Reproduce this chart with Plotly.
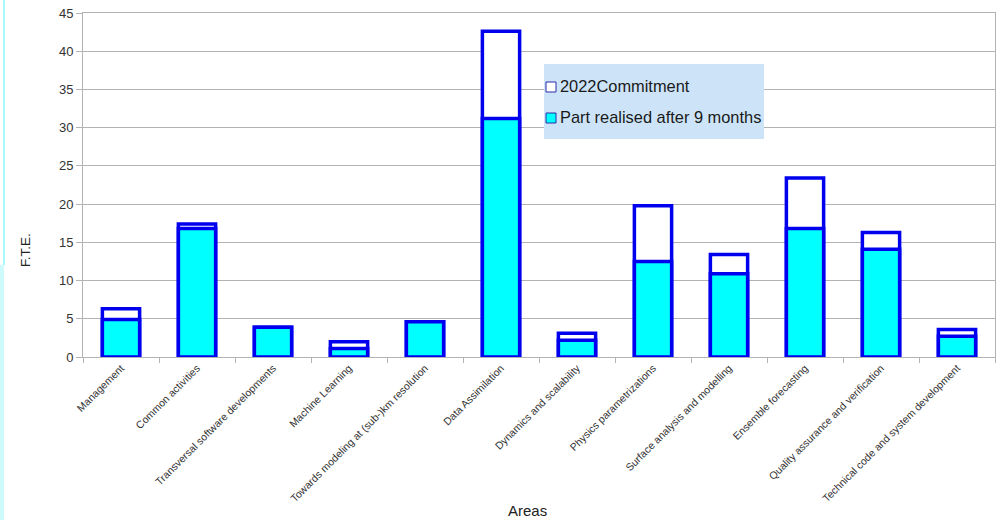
import plotly.graph_objects as go

# Work areas and staffing (full-time equivalents)
areas = [
    "Management",
    "Common activities",
    "Transversal software developments",
    "Machine Learning",
    "Towards modeling at (sub-)km resolution",
    "Data Assimilation",
    "Dynamics and scalability",
    "Physics parametrizations",
    "Surface analysis and modelling",
    "Ensemble forecasting",
    "Quality assurance and verification",
    "Technical code and system development",
]
commitment_2022 = [6.3, 17.4, 3.9, 2.0, 4.6, 42.6, 3.1, 19.8, 13.4, 23.4, 16.3, 3.6]
realised_9_months = [4.9, 16.8, 3.9, 1.1, 4.6, 31.2, 2.2, 12.5, 10.9, 16.8, 14.1, 2.7]

series_names = ["2022Commitment", "Part realised after 9 months"]
y_ticks = [0, 5, 10, 15, 20, 25, 30, 35, 40, 45]

OUTLINE = "#0000ee"
FILLS = ["white", "#00ffff"]
FONT = "Liberation Sans, Arial, sans-serif"

# pixel geometry of the plot area
W, H = 1001, 520
L, R, T, B = 83, 6, 13, 163
PW, PH = W - L - R, H - T - B


def px(x):
    return (x - L) / PW


def py(y):
    return (H - B - y) / PH


fig = go.Figure()
for name, vals, fill in zip(series_names, [commitment_2022, realised_9_months], FILLS):
    fig.add_trace(go.Bar(
        x=areas, y=vals, name=name,
        marker=dict(color=fill, line=dict(color=OUTLINE, width=3.5)),
        width=0.49,
    ))

# legend panel drawn by hand: background, swatches and labels
shapes = [
    dict(type="rect", xref="paper", yref="paper",
         x0=px(544), x1=px(764), y0=py(139), y1=py(64),
         line=dict(width=0), fillcolor="#cde4f8", layer="above"),
]
annotations = []
for i, (name, fill) in enumerate(zip(series_names, FILLS)):
    cy = 87 + 31 * i
    shapes.append(dict(type="rect", xref="paper", yref="paper",
                       x0=px(546), x1=px(556), y0=py(cy + 5), y1=py(cy - 5),
                       line=dict(width=1, color="#2a2aa8"), fillcolor=fill,
                       layer="above"))
    annotations.append(dict(text=name, xref="paper", yref="paper",
                            x=px(558), y=py(cy - 1), xanchor="left", yanchor="middle",
                            showarrow=False,
                            font=dict(size=16.4, color="#1a1a1a", family=FONT)))

# slim cyan edge strip along the left of the page
shapes += [
    dict(type="rect", xref="paper", yref="paper",
         x0=px(3), x1=px(5), y0=py(265), y1=py(0),
         line=dict(width=0), fillcolor="#a8fbfb", layer="below"),
    dict(type="rect", xref="paper", yref="paper",
         x0=px(0), x1=px(4), y0=py(520), y1=py(265),
         line=dict(width=0), fillcolor="#cdfbfb", layer="below"),
]

annotations += [
    dict(text="F.T.E.", xref="paper", yref="paper", x=px(25), y=py(250),
         xanchor="center", yanchor="middle",
         textangle=-90, showarrow=False, font=dict(size=13.5, color="#222222")),
    dict(text="Areas", xref="paper", yref="paper", x=px(527), y=py(511),
         xanchor="center", yanchor="middle",
         showarrow=False, font=dict(size=15, color="#222222")),
]

fig.update_layout(
    width=W, height=H,
    margin=dict(l=L, r=R, t=T, b=B),
    paper_bgcolor="white", plot_bgcolor="white",
    barmode="overlay",
    font=dict(family=FONT, color="#333333"),
    showlegend=False,
    xaxis=dict(
        type="category", tickangle=-45, tickson="boundaries",
        ticks="outside", ticklen=5, tickcolor="#b3b3b3",
        showline=True, linecolor="#b3b3b3", linewidth=1, mirror=True,
        showgrid=False, tickfont=dict(size=10.5, color="#333333"),
    ),
    yaxis=dict(
        range=[0, 45], tickvals=y_ticks,
        ticks="outside", ticklen=6, tickcolor="#b3b3b3",
        showline=True, linecolor="#b3b3b3", linewidth=1, mirror=True,
        showgrid=True, gridcolor="#b3b3b3", gridwidth=1,
        tickfont=dict(size=13, color="#333333"), zeroline=False,
    ),
    shapes=shapes,
    annotations=annotations,
)

fig.write_html("out.html")
